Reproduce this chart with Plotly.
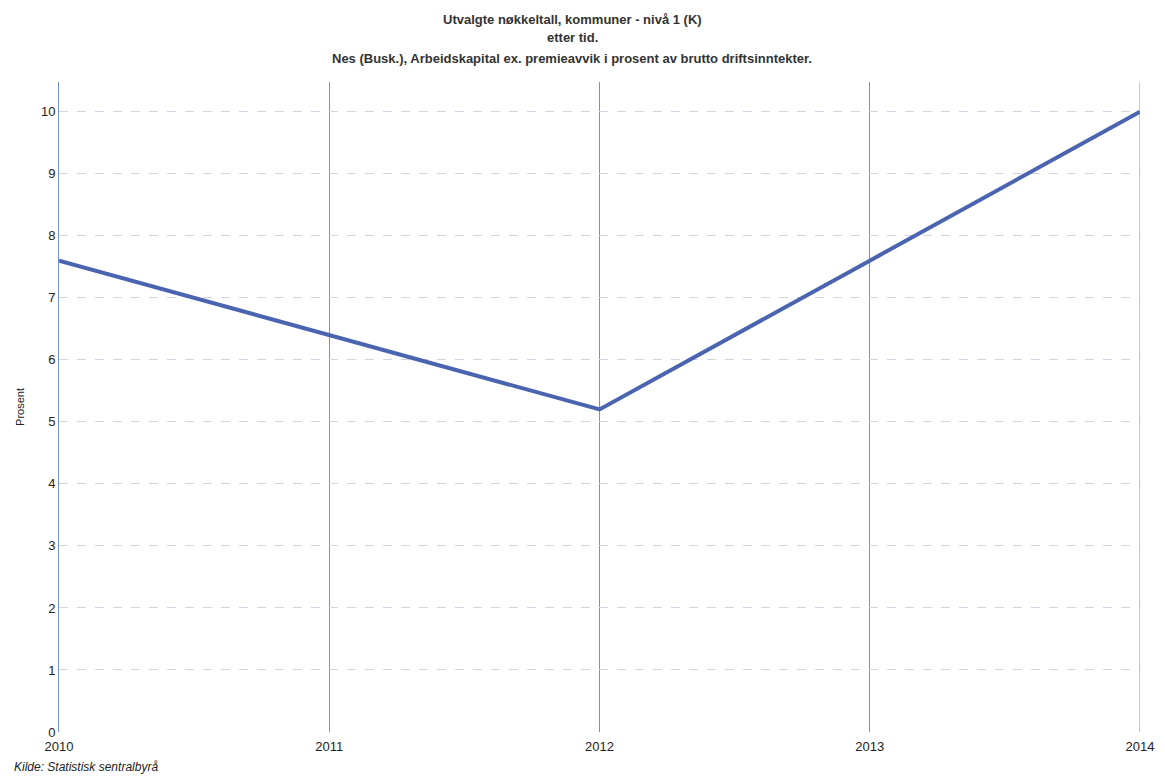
import plotly.graph_objects as go

years = [2010, 2011, 2012, 2013, 2014]
values = [7.6, 6.4, 5.2, 7.6, 10.0]
year_labels = ["2010", "2011", "2012", "2013", "2014"]
y_ticks = [0, 1, 2, 3, 4, 5, 6, 7, 8, 9, 10]

title_lines = [
    "Utvalgte nøkkeltall, kommuner - nivå 1 (K)",
    "etter tid.",
    "Nes (Busk.), Arbeidskapital ex. premieavvik i prosent av brutto driftsinntekter.",
]

fig = go.Figure()
fig.add_trace(go.Scatter(
    x=years, y=values, mode="lines",
    line=dict(color="#4a64b0", width=4),
    showlegend=False, hoverinfo="x+y",
))

# page body has an 8px default margin; compensate
OFF = 8
W, H = 1165 - OFF, 780 - OFF
ml, mr, mt, mb = 59 - OFF, 25, 82 - OFF, 48

fig.update_layout(
    width=W, height=H,
    margin=dict(l=ml, r=mr, t=mt, b=mb, autoexpand=False),
    plot_bgcolor="white", paper_bgcolor="white",
    font=dict(family="Liberation Sans, Arial, sans-serif", size=13, color="#222"),
    xaxis=dict(
        range=[2010, 2014], tickvals=years, ticktext=year_labels,
        showgrid=True, gridcolor="#6f90dc", gridwidth=1,
        zeroline=False, showline=False, ticks="", ticklen=0,
        tickfont=dict(size=13, color="#222"), automargin=False,
        ticklabelstandoff=5,
    ),
    yaxis=dict(
        range=[0, 10.48], tickvals=y_ticks,
        showgrid=True, gridcolor="#cfd6e0", griddash="dash", gridwidth=1,
        zeroline=False, showline=True, linecolor="#6f90dc", linewidth=1,
        ticks="", tickfont=dict(size=13, color="#222"), automargin=False,
        title=dict(text="Prosent", font=dict(size=11, color="#222"), standoff=14),
    ),
)

fig.add_shape(type="line", xref="x", yref="paper", x0=2014, x1=2014, y0=0, y1=1,
              line=dict(color="#6f90dc", width=1))

title_y = [20, 38, 58]
for txt, ypx in zip(title_lines, title_y):
    fig.add_annotation(
        text="<b>" + txt + "</b>", xref="paper", yref="paper",
        x=(572 - OFF - ml) / (W - ml - mr), y=1 + (mt - (ypx - OFF)) / (H - mt - mb),
        showarrow=False, xanchor="center", yanchor="middle",
        font=dict(size=13, color="#333", family="Liberation Sans, Arial, sans-serif"),
    )

fig.add_annotation(
    text="<i>Kilde: Statistisk sentralbyrå</i>", xref="paper", yref="paper",
    x=(4 - ml) / (W - ml - mr), y=-(767 - OFF - (H - mb)) / (H - mt - mb),
    showarrow=False, xanchor="left", yanchor="middle",
    font=dict(size=12, color="#222"),
)

fig.write_html("out.html")
